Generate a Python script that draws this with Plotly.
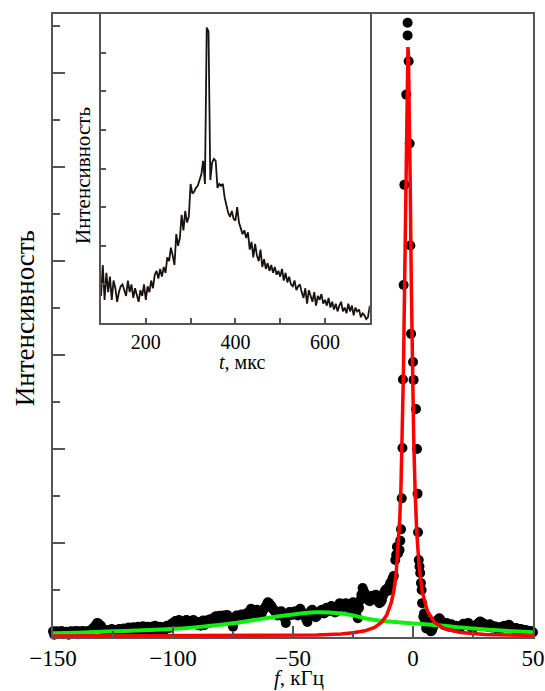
import plotly.graph_objects as go

# ---------------- main spectrum data (intensity in arbitrary units) ----------------
f_left = list(range(-150, -7))  # kHz, 1 kHz step
I_left = [
    0.12, 0.08, 0.10, 0.09, 0.07, 0.10, 0.08, 0.09, 0.11, 0.10,
    0.09, 0.12, 0.10, 0.11, 0.09, 0.13, 0.15, 0.20, 0.26, 0.28,
    0.24, 0.16, 0.12, 0.10, 0.14, 0.12, 0.15, 0.13, 0.16, 0.14,
    0.17, 0.15, 0.18, 0.16, 0.19, 0.17, 0.20, 0.18, 0.21, 0.19,
    0.17, 0.22, 0.19, 0.20, 0.18, 0.16, 0.20, 0.18, 0.22, 0.24,
    0.30, 0.34, 0.29, 0.32, 0.27, 0.31, 0.35, 0.30, 0.28, 0.33,
    0.26, 0.32, 0.29, 0.25, 0.35, 0.30, 0.36, 0.40, 0.44, 0.38,
    0.43, 0.46, 0.40, 0.44, 0.36, 0.22, 0.42, 0.45, 0.40, 0.47,
    0.44, 0.50, 0.55, 0.57, 0.52, 0.58, 0.46, 0.50, 0.60, 0.68,
    0.72, 0.66, 0.58, 0.52, 0.48, 0.55, 0.50, 0.30, 0.47, 0.52,
    0.49, 0.55, 0.46, 0.60, 0.52, 0.44, 0.32, 0.50, 0.58, 0.47,
    0.45, 0.52, 0.58, 0.50, 0.62, 0.55, 0.66, 0.60, 0.54, 0.68,
    0.70, 0.64, 0.72, 0.66, 0.58, 0.74, 0.70, 0.40, 0.78, 1.04,
    0.92, 0.82, 0.76, 0.88, 0.80, 0.86, 0.72, 0.78, 0.95, 1.02,
    1.07, 1.12, 1.30,
]
f_left2 = [x + 0.5 for x in range(-150, -8)]  # interleaved samples
I_left2 = [
    0.05, 0.12, 0.07, 0.13, 0.06, 0.11, 0.05, 0.12, 0.07, 0.13,
    0.06, 0.08, 0.13, 0.07, 0.12, 0.08, 0.18, 0.23, 0.30, 0.22,
    0.18, 0.10, 0.15, 0.08, 0.17, 0.09, 0.12, 0.17, 0.10, 0.18,
    0.12, 0.20, 0.13, 0.21, 0.14, 0.22, 0.15, 0.23, 0.16, 0.22,
    0.21, 0.15, 0.24, 0.14, 0.22, 0.20, 0.15, 0.24, 0.19, 0.28,
    0.26, 0.29, 0.36, 0.25, 0.33, 0.36, 0.28, 0.33, 0.36, 0.27,
    0.31, 0.24, 0.35, 0.31, 0.29, 0.38, 0.33, 0.43, 0.38, 0.45,
    0.38, 0.41, 0.47, 0.38, 0.30, 0.35, 0.46, 0.38, 0.48, 0.42,
    0.50, 0.46, 0.60, 0.50, 0.56, 0.50, 0.53, 0.57, 0.64, 0.74,
    0.68, 0.60, 0.54, 0.46, 0.53, 0.45, 0.40, 0.44, 0.53, 0.47,
    0.53, 0.48, 0.56, 0.50, 0.46, 0.38, 0.44, 0.56, 0.50, 0.42,
    0.50, 0.56, 0.52, 0.58, 0.56, 0.62, 0.58, 0.52, 0.63, 0.72,
    0.66, 0.70, 0.68, 0.60, 0.66, 0.70, 0.55, 0.62, 0.90, 0.98,
    0.86, 0.78, 0.84, 0.82, 0.90, 0.80, 0.74, 0.88, 1.00, 0.98,
    1.15, 1.25,
]
f_peak = [-7.4, -7.0, -6.7, -6.2, -5.6, -5.3, -5.0, -4.7, -4.4, -4.2, -3.9, -3.6,
          -2.8, -2.25, -2.25, -1.8, -1.4, -1.1, -0.8, 0.0, 0.25, 1.25, 1.67, 1.9,
          2.1, 2.4, 2.7, 3.0, 3.3, 3.6, 3.8, 4.3, 4.6]
I_peak = [1.64, 1.75, 1.92, 1.78, 1.85, 2.05, 2.29, 2.95, 4.02, 5.48, 7.49, 9.62,
          11.54, 12.80, 13.07, 12.25, 10.50, 8.33, 6.45, 5.85, 5.47, 4.85, 4.00, 3.05,
          2.23, 1.64, 1.50, 1.36, 1.15, 1.00, 0.72, 0.43, 0.50]
f_right = list(range(5, 51))
I_right = [
    0.30, 0.22, 0.33, 0.15, 0.28, 0.35, 0.40, 0.32, 0.25, 0.30,
    0.22, 0.27, 0.20, 0.24, 0.18, 0.22, 0.28, 0.26, 0.30, 0.22,
    0.19, 0.24, 0.28, 0.33, 0.30, 0.25, 0.22, 0.27, 0.20, 0.23,
    0.18, 0.21, 0.19, 0.24, 0.22, 0.26, 0.20, 0.17, 0.19, 0.15,
    0.17, 0.14, 0.15, 0.12, 0.13, 0.10,
]
f_right2 = [x + 0.5 for x in range(5, 50)]
I_right2 = [
    0.18, 0.27, 0.12, 0.22, 0.32, 0.37, 0.36, 0.28, 0.27, 0.25,
    0.24, 0.23, 0.22, 0.21, 0.20, 0.25, 0.27, 0.28, 0.26, 0.20,
    0.21, 0.26, 0.31, 0.31, 0.27, 0.23, 0.25, 0.23, 0.21, 0.20,
    0.19, 0.20, 0.22, 0.23, 0.24, 0.23, 0.18, 0.18, 0.17, 0.16,
    0.15, 0.14, 0.13, 0.12, 0.11,
]
f_data = f_left + f_left2 + f_peak + f_right + f_right2
I_data = I_left + I_left2 + I_peak + I_right + I_right2

# narrow (red) fit curve
f_red = [-150, -120, -100, -80, -60, -50, -40, -30, -25, -20, -16, -13, -11, -9, -8, -7, -6,
         -5.5, -5, -4.5, -4, -3.5, -3, -2.6, -2.3, -2.1, -1.9, -1.6, -1.2, -0.7, -0.2, 0.3,
         0.9, 1.6, 2.6, 3.9, 6, 9, 13, 20, 30, 40, 50]
I_red = [0.02, 0.023, 0.024, 0.026, 0.031, 0.036, 0.045, 0.066, 0.089, 0.132, 0.205, 0.318,
         0.46, 0.74, 0.98, 1.37, 2.02, 2.53, 3.22, 4.21, 5.59, 7.49, 9.81, 11.55, 12.38, 12.55,
         12.38, 11.55, 9.81, 7.49, 5.59, 4.21, 3.06, 2.20, 1.47, 0.95, 0.55, 0.31, 0.18, 0.094,
         0.055, 0.04, 0.033]

# broad (green) fit curve
f_green = [-150, -140, -130, -120, -110, -100, -90, -80, -70, -60, -50, -45, -40, -35, -30,
           -25, -20, -15, -10, -5, 0, 5, 10, 15, 20, 25, 30, 40, 50]
I_green = [0.08, 0.09, 0.11, 0.13, 0.15, 0.17, 0.21, 0.26, 0.33, 0.41, 0.48, 0.51, 0.525, 0.52,
           0.50, 0.46, 0.40, 0.355, 0.33, 0.31, 0.29, 0.27, 0.25, 0.23, 0.20, 0.18, 0.16, 0.13, 0.10]

# ---------------- inset: time signal ----------------
t_inset = list(range(100, 701, 4))  # microseconds
I_inset = [
    0.7, 1.5, 0.6, 1.3, 0.8, 1.2, 0.6, 1.1, 0.9, 0.55, 0.8, 0.95, 1.0, 0.85, 0.7, 1.1, 0.8, 1.0,
    0.65, 0.9, 0.75, 0.55, 0.85, 0.7, 1.0,
    0.6, 0.95, 0.8, 1.1, 0.9, 1.25, 1.35, 1.15, 1.4, 1.2, 1.45, 1.3,
    1.7, 1.6, 1.95, 1.75, 1.5, 2.3, 2.0, 2.2, 2.8, 2.4, 2.9, 2.6, 2.75,
    3.6, 3.35, 3.4, 3.5, 3.55, 3.7, 3.85, 4.2, 3.6,
    7.65, 7.55, 3.7, 4.15, 4.25, 4.2, 3.5, 3.6, 3.55, 3.6, 3.25, 3.0, 2.85, 2.75, 2.9, 2.7,
    2.65, 3.0, 2.6, 2.45, 2.3, 2.4, 2.2, 2.35, 1.9, 2.1, 1.7, 2.05,
    1.75, 1.6, 1.9, 1.45, 1.65, 1.4, 1.55, 1.35, 1.5, 1.3, 1.45, 1.25, 1.35,
    1.2, 1.4, 1.1, 1.3, 1.05, 1.2, 1.0, 0.95, 1.1, 0.85, 0.95, 1.0, 0.8,
    0.65, 0.9, 0.5, 0.85, 0.7, 0.55, 0.8, 0.45, 0.7, 0.6, 0.75, 0.5, 0.6,
    0.45, 0.65, 0.4, 0.55, 0.35, 0.5, 0.3, 0.45, 0.55, 0.3, 0.4, 0.25, 0.5,
    0.3, 0.45, 0.2, 0.4, 0.3, 0.35, 0.15, 0.25, 0.2, 0.1, 0.15, 0.45,
]

AX = '#555555'
FONT = 'Liberation Serif'

fig = go.Figure()
fig.add_trace(go.Scatter(x=f_data, y=I_data, mode='markers', cliponaxis=False,
                         marker=dict(color='black', size=10, line=dict(width=0)),
                         xaxis='x', yaxis='y'))
fig.add_trace(go.Scatter(x=f_green, y=I_green, mode='lines',
                         line=dict(color='#11ee11', width=4, shape='spline', smoothing=0.6),
                         xaxis='x', yaxis='y'))
fig.add_trace(go.Scatter(x=f_red, y=I_red, mode='lines',
                         line=dict(color='#ff0000', width=3.5),
                         xaxis='x', yaxis='y'))
fig.add_trace(go.Scatter(x=t_inset, y=I_inset, mode='lines',
                         line=dict(color='#1a1111', width=1.8),
                         xaxis='x2', yaxis='y2'))

common = dict(showline=True, linecolor=AX, linewidth=1.5, mirror=True, ticks='inside',
              tickcolor=AX, tickwidth=1.5, showgrid=False, zeroline=False, automargin=False)

fig.update_layout(
    width=545, height=691, autosize=False,
    margin=dict(l=53, r=12, t=14, b=54),
    paper_bgcolor='white', plot_bgcolor='white', showlegend=False,
    font=dict(family=FONT, color='black'),
    xaxis=dict(domain=[0, 1], anchor='y', range=[-150, 50], tickmode='linear', tick0=-150, dtick=50,
               ticklen=11, ticklabeloverflow='allow',
               minor=dict(dtick=25, tick0=-150, ticks='inside', ticklen=6, tickcolor=AX),
               tickfont=dict(size=23, family=FONT), **common),
    yaxis=dict(domain=[0, 1], anchor='x', range=[0, 13.255], tickmode='linear', tick0=0, dtick=2,
               ticklen=12, showticklabels=False,
               minor=dict(dtick=1, tick0=0, ticks='inside', ticklen=7, tickcolor=AX), **common),
    xaxis2=dict(domain=[0.1, 0.66], anchor='y2', range=[100, 700], tickmode='linear', tick0=200, dtick=200,
                ticklen=5, minor=dict(dtick=100, tick0=200, ticks='inside', ticklen=5, tickcolor=AX),
                tickfont=dict(size=20, family=FONT), **common),
    yaxis2=dict(domain=[0.504, 1], anchor='x2', range=[0, 8], tickmode='linear', tick0=0, dtick=1,
                ticklen=5, showticklabels=False, **common),
    annotations=[
        dict(text='<i>f</i>, кГц', xref='paper', yref='paper', x=0.5125, y=-0.0665,
             xanchor='center', yanchor='middle', showarrow=False, font=dict(size=21, family=FONT)),
        dict(text='Интенсивность', xref='paper', yref='paper', x=-0.058, y=0.512, textangle=-90,
             xanchor='center', yanchor='middle', showarrow=False, font=dict(size=27, family=FONT)),
        dict(text='<i>t</i>, мкс', xref='paper', yref='paper', x=0.393, y=0.442,
             xanchor='center', yanchor='middle', showarrow=False, font=dict(size=20, family=FONT)),
        dict(text='Интенсивность', xref='paper', yref='paper', x=0.0625, y=0.74, textangle=-90,
             xanchor='center', yanchor='middle', showarrow=False, font=dict(size=21, family=FONT)),
    ],
)

fig.write_html('out.html', config={'responsive': False})
